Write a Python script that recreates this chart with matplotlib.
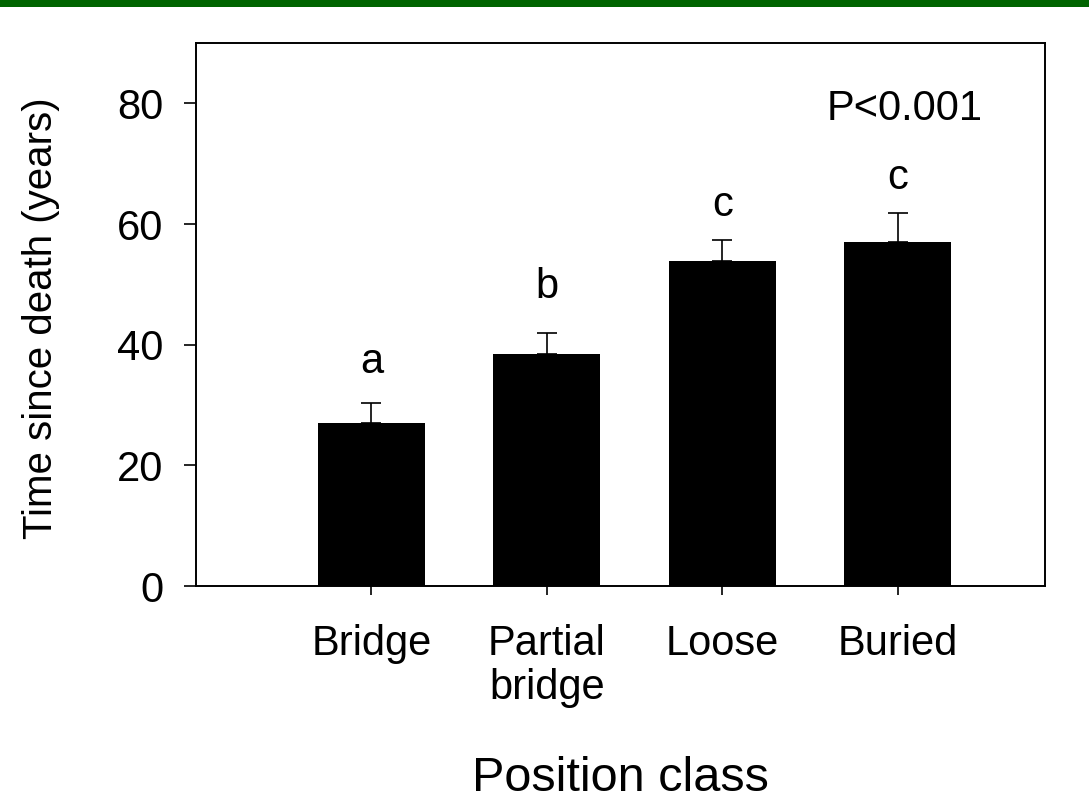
import numpy as np
import matplotlib.pyplot as plt
from matplotlib.patches import Rectangle

plt.rcParams['font.family'] = ['Liberation Sans', 'DejaVu Sans']

categories = ["Bridge", "Partial\nbridge", "Loose", "Buried"]
means = [27.0, 38.4, 53.8, 57.0]
errors = [3.4, 3.6, 3.5, 4.8]
letters = ["a", "b", "c", "c"]
letter_y = [37.2, 49.5, 63.2, 67.7]

x = np.arange(1, len(categories) + 1)

fig = plt.figure(figsize=(10.89, 8.11), dpi=100)
fig.patches.append(Rectangle((0, 1 - 7 / 811), 1, 7 / 811, transform=fig.transFigure,
                             facecolor="#006400", edgecolor="none"))
ax = fig.add_axes([196 / 1089, 1 - 586 / 811, (1045 - 196) / 1089, (586 - 43) / 811])

ax.bar(x, means, width=0.61, color="black", zorder=2)
ax.errorbar(x, means, yerr=[np.zeros(len(errors)), errors], fmt="none",
            ecolor="black", elinewidth=1.2, capsize=7, capthick=1.2, zorder=1)

for xi, lab, ly in zip(x, letters, letter_y):
    ax.text(xi, ly, lab, ha="center", va="center", fontsize=30)
ax.text(4.04, 79, "P<0.001", ha="center", va="center", fontsize=30)

ax.set_xlim(0, 4.84)
ax.set_ylim(0, 90)
ax.set_yticks([0, 20, 40, 60, 80])
ax.set_xticks(x)
ax.set_xticklabels(categories, fontsize=30, linespacing=1.12, va="top")
ax.tick_params(axis="y", labelsize=30, length=8.6, width=1.2, pad=15)
ax.tick_params(axis="x", length=6.5, width=1.2, pad=21)
for s in ax.spines.values():
    s.set_linewidth(1.4)

ax.set_ylabel("Time since death (years)", fontsize=29)
ax.yaxis.set_label_coords((60 - 196) / 849, 0.494)
ax.set_xlabel("Position class", fontsize=35)
ax.xaxis.set_label_coords(0.5, (586 - 756) / 543)

fig.savefig("out.png", dpi=100)
